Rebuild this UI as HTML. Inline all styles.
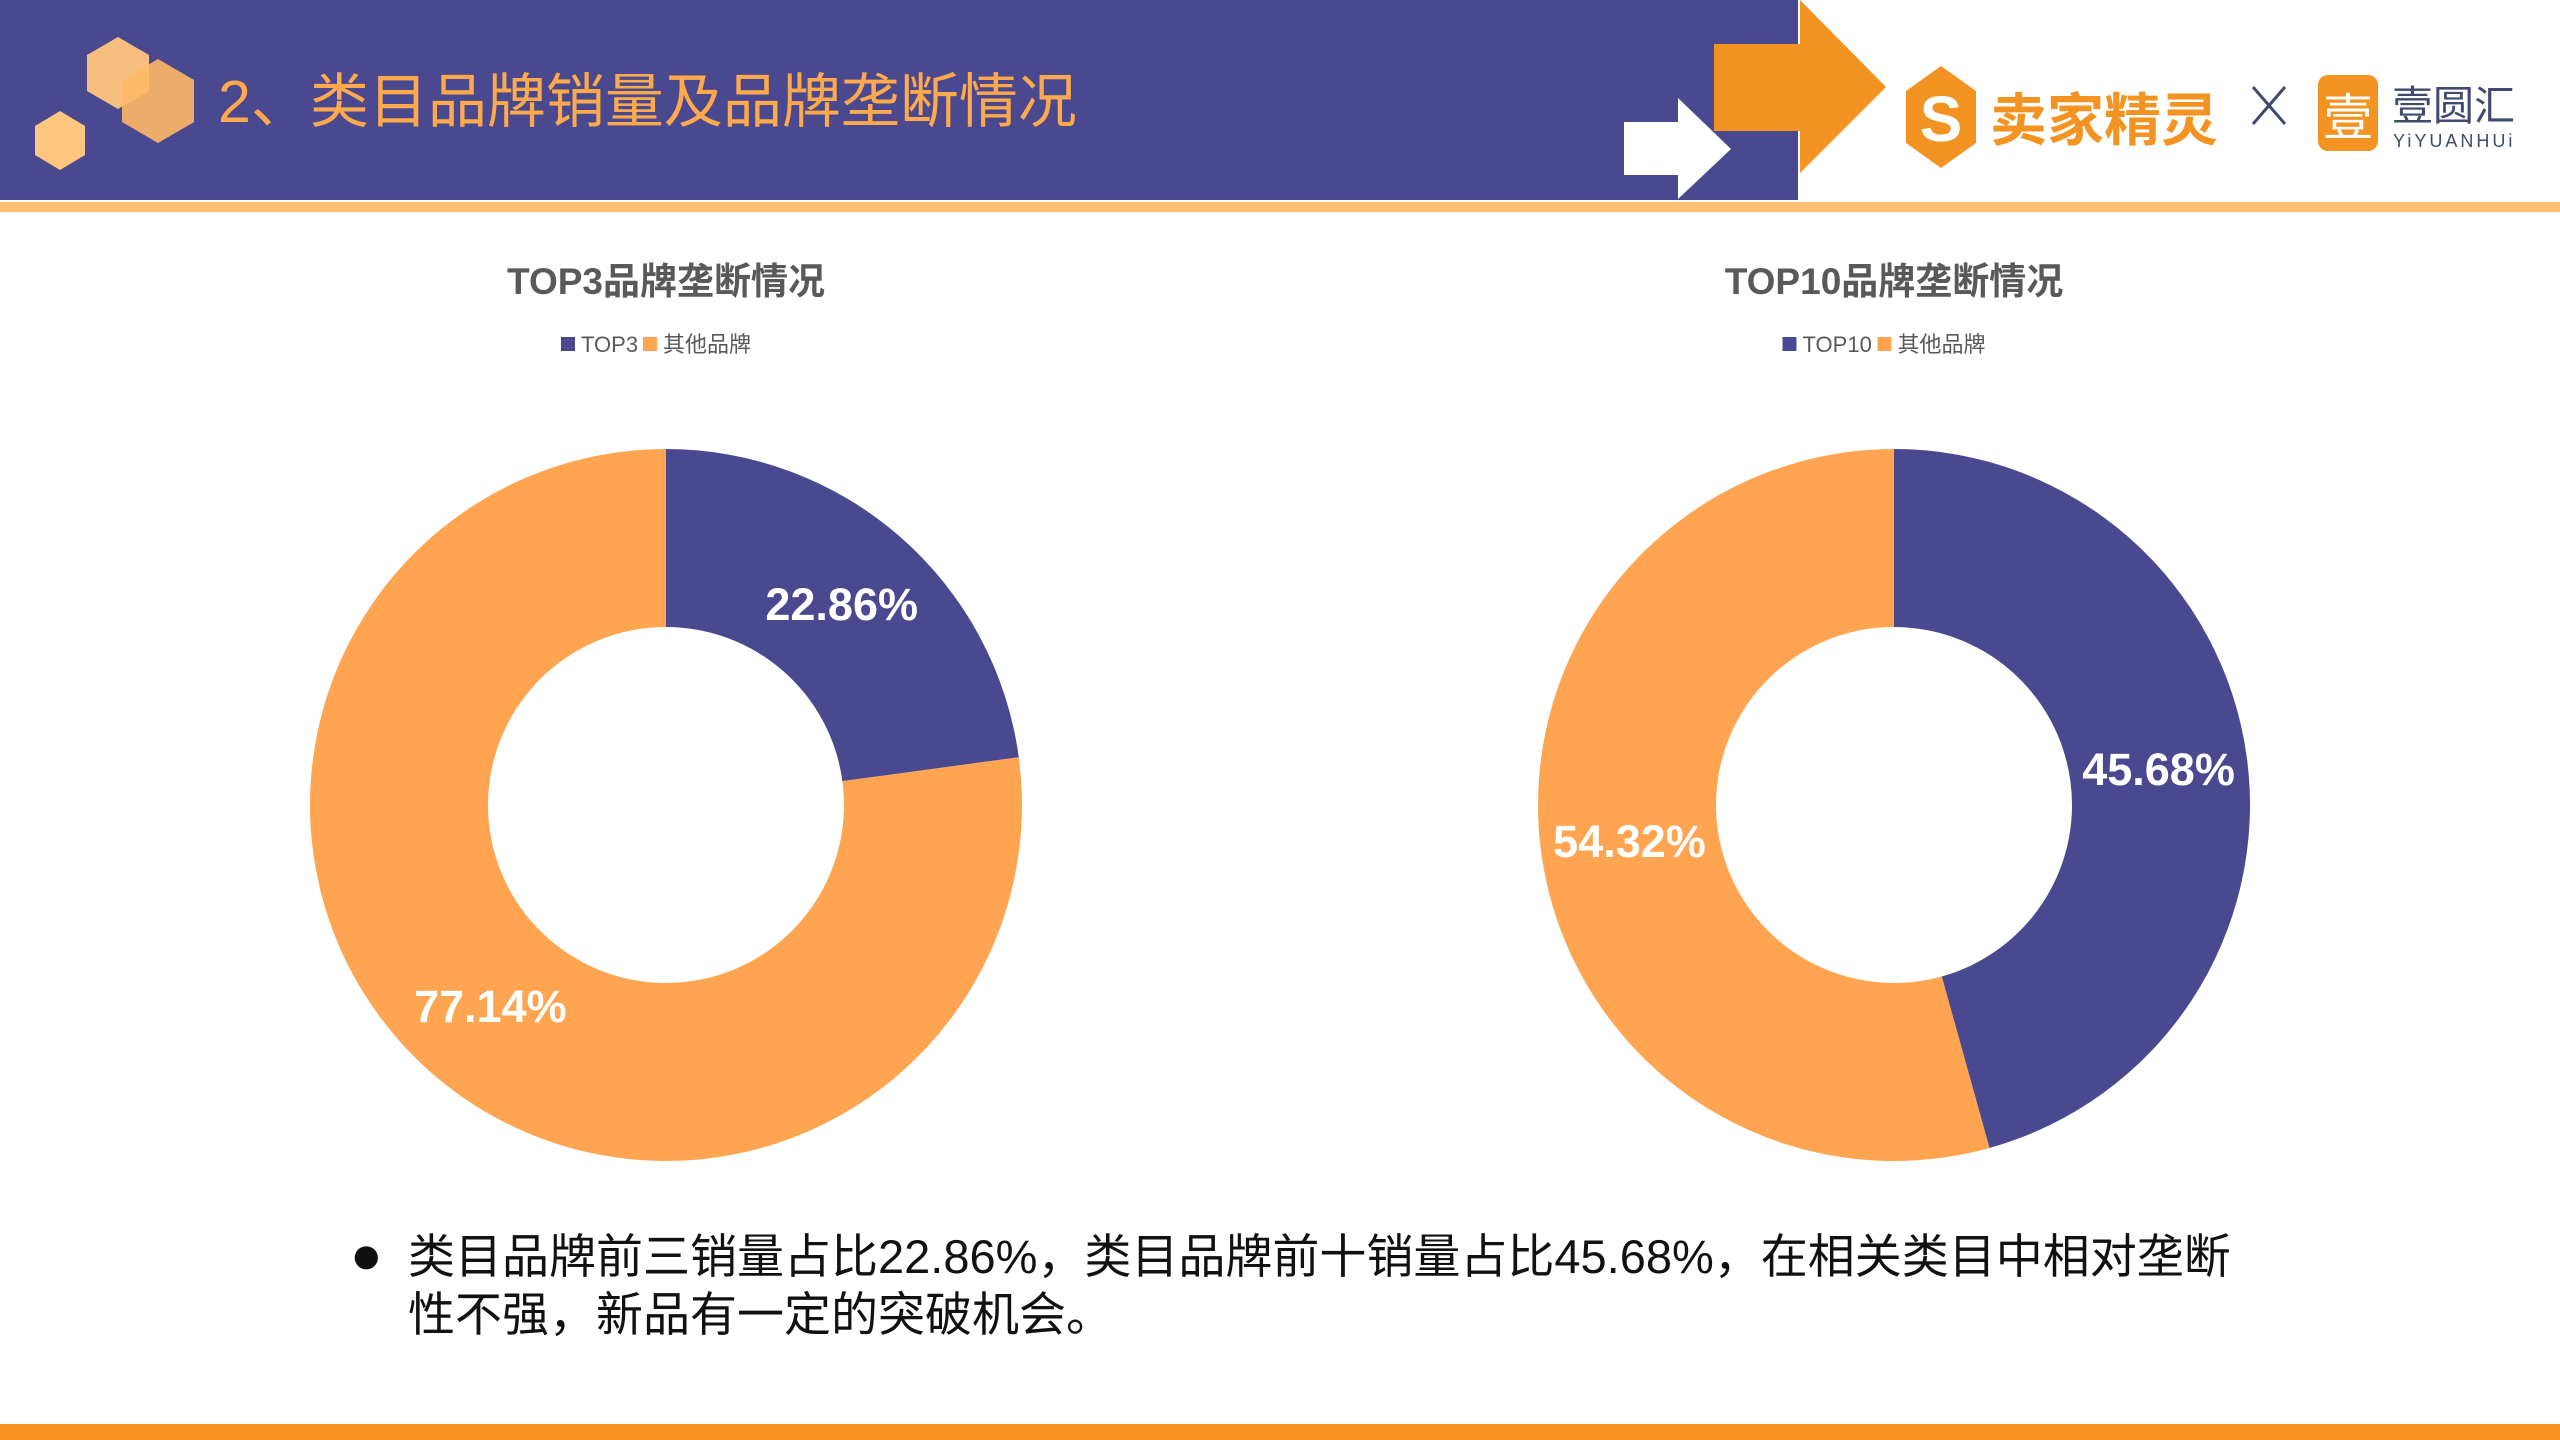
<!DOCTYPE html>
<html><head><meta charset="utf-8"><style>
body{margin:0;width:2560px;height:1440px;overflow:hidden;background:#fff;font-family:"Liberation Sans","Noto Sans CJK SC",sans-serif;position:relative}
.abs{position:absolute}
</style></head><body>
<svg class="abs" style="left:0;top:0" width="2560" height="1440">
 <rect x="0" y="0" width="1798" height="200" fill="#4A4990"/>
 <rect x="0" y="202" width="2560" height="10" fill="#FFC06F"/>
 <rect x="0" y="1424" width="2560" height="16" fill="#F7931E"/>
 <g fill="#F39422">
  <rect x="1714" y="44" width="88" height="87"/>
  <polygon points="1800,0 1886,87 1800,173"/>
 </g>
 <g fill="#fff">
  <rect x="1624" y="122" width="56" height="53"/>
  <polygon points="1678,98 1731,149 1678,199"/>
 </g>
 <g>
  <polygon points="118,37 149,55 149,91 118,109 87,91 87,55" fill="#FFC67F" opacity="0.95"/>
  <polygon points="158,59 194,80 194,122 158,143 122,122 122,80" fill="#FFB866" opacity="0.9"/>
  <polygon points="60,111 85,126 85,155 60,170 35,155 35,126" fill="#FFC67F"/>
 </g>
 <text x="218" y="122" font-size="59" fill="#FFA94D" font-family="Liberation Sans,Noto Sans CJK SC,sans-serif">2、类目品牌销量及品牌垄断情况</text>
 <g>
  <polygon points="1941,66 1976,91 1976,143 1941,168 1906,143 1906,91" fill="#F39422"/>
  <text x="1941" y="141" font-size="64" font-weight="bold" fill="#fff" text-anchor="middle" font-family="Liberation Sans,sans-serif">S</text>
  <text x="1990" y="140" font-size="57" font-weight="bold" fill="#F39422" font-family="Liberation Sans,Noto Sans CJK SC,sans-serif">卖家精灵</text>
 </g>
 <g stroke="#3E4A6E" stroke-width="3">
  <line x1="2253" y1="87" x2="2285" y2="124"/><line x1="2285" y1="87" x2="2253" y2="124"/>
 </g>
 <g>
  <rect x="2318" y="75" width="60" height="76" rx="10" fill="#F39422"/>
  <text x="2348" y="135" font-size="50" fill="#fff" text-anchor="middle" font-family="Noto Sans CJK SC,sans-serif">壹</text>
  <text x="2392" y="120" font-size="41" fill="#3E4A6E" font-family="Noto Sans CJK SC,sans-serif">壹圆汇</text>
  <text x="2393" y="147" font-size="18" fill="#3E4A6E" letter-spacing="3" font-family="Liberation Sans,sans-serif">YiYUANHUi</text>
 </g>
 <g id="charts"></g>
</svg>
<div class="abs" style="left:350px;top:1228px;width:2000px;font-size:47px;line-height:58px;color:#111;font-family:'Liberation Sans','Noto Sans CJK SC',sans-serif">
 <span class="abs" style="left:0;top:-2px;font-size:54px">●</span>
 <div style="padding-left:58px">类目品牌前三销量占比22.86%，类目品牌前十销量占比45.68%，在相关类目中相对垄断<br>性不强，新品有一定的突破机会。</div>
</div>
<script>
const chartTitles=["TOP3品牌垄断情况","TOP10品牌垄断情况"];
const categoriesA=["TOP3","其他品牌"];
const categoriesB=["TOP10","其他品牌"];
const valuesA=[22.86,77.14];
const valuesB=[45.68,54.32];
const colors=["#4A4990","#FFA552"];
const NS="http://www.w3.org/2000/svg";
const root=document.getElementById('charts');
function mk(t,a,p){const e=document.createElementNS(NS,t);for(const k in a)e.setAttribute(k,a[k]);(p||root).appendChild(e);return e;}
function pt(cx,cy,r,f){const a=f*2*Math.PI;return [cx+r*Math.sin(a),cy-r*Math.cos(a)];}
function donut(cx,cy,title,cats,vals,idx){
 const g=mk('g',{});
 
 
 const t=mk('text',{x:cx,y:294,'font-size':37,'font-weight':'bold',fill:'#595959','text-anchor':'middle','font-family':'Liberation Sans,Noto Sans CJK SC,sans-serif'},g);
 t.textContent=title;
 
 
 const lw=[cats[0].length*13+30, cats[1].length*22];
 let lx=cx-(lw[0]+lw[1]+20)/2-10;
 cats.forEach((c,i)=>{
  const lg=mk('g',{},g);
  
  
  mk('rect',{x:lx,y:337,width:14,height:14,fill:colors[i]},lg);
  const tx=mk('text',{x:lx+20,y:352,'font-size':22,fill:'#595959','font-family':'Liberation Sans,Noto Sans CJK SC,sans-serif'},lg);
  tx.textContent=c;
  lx+=20+(i==0?cats[0].length*13+10:0);
 });
 const R=356,r=178,tot=vals.reduce((a,b)=>a+b,0);
 let acc=0;
 vals.forEach((v,i)=>{
  const f0=acc/tot,f1=(acc+v)/tot;acc+=v;
  const [x0,y0]=pt(cx,cy,R,f0),[x1,y1]=pt(cx,cy,R,f1),[x2,y2]=pt(cx,cy,r,f1),[x3,y3]=pt(cx,cy,r,f0);
  const lg=(f1-f0)>0.5?1:0;
  const p=mk('path',{d:`M${x0},${y0}A${R},${R} 0 ${lg} 1 ${x1},${y1}L${x2},${y2}A${r},${r} 0 ${lg} 0 ${x3},${y3}Z`,fill:colors[i]},g);
  
  
  const [lx2,ly2]=pt(cx,cy,(R+r)/2,(f0+f1)/2);
  const lt=mk('text',{x:lx2,y:ly2+16,'font-size':45,'font-weight':'bold',fill:'#fff','text-anchor':'middle','font-family':'Liberation Sans,sans-serif'},g);
  lt.textContent=v.toFixed(2)+'%';
  
  
 });
}
donut(666,805,chartTitles[0],categoriesA,valuesA,0);
donut(1894,805,chartTitles[1],categoriesB,valuesB,1);
</script>
</body></html>
